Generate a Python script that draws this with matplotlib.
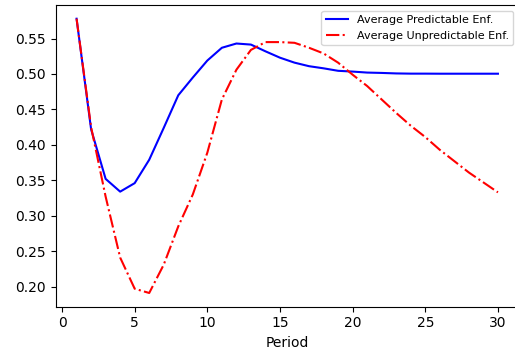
import matplotlib
matplotlib.use("Agg")
import matplotlib.pyplot as plt

# periods and average enforcement values
period = list(range(1, 31))
pred_enf = [0.578, 0.422, 0.352, 0.334, 0.346, 0.379, 0.424, 0.470, 0.495, 0.519,
            0.537, 0.543, 0.5415, 0.532, 0.523, 0.516, 0.511, 0.508, 0.5045, 0.5034,
            0.502, 0.5015, 0.5008, 0.5005, 0.5005, 0.5004, 0.5004, 0.5004, 0.5004, 0.5004]
unpred_enf = [0.578, 0.425, 0.327, 0.241, 0.197, 0.191, 0.231, 0.285, 0.330, 0.389,
              0.464, 0.506, 0.534, 0.545, 0.545, 0.544, 0.537, 0.529, 0.516, 0.499,
              0.483, 0.464, 0.445, 0.427, 0.411, 0.393, 0.377, 0.361, 0.347, 0.333]

fig = plt.figure(figsize=(5.15, 3.53), dpi=100)
# axes run slightly past the right edge, like the cropped original
ax = fig.add_axes([55.5 / 515, 46.3 / 353, 463.5 / 515, 301.7 / 353])

ax.plot(period, pred_enf, color="blue", linestyle="-", linewidth=1.5,
        label="Average Predictable Enf.")
ax.plot(period, unpred_enf, color="red", linestyle="-.", linewidth=1.5,
        label="Average Unpredictable Enf.")

ax.set_xlabel("Period")
ax.set_xticks([0, 5, 10, 15, 20, 25, 30])
ax.set_yticks([0.20, 0.25, 0.30, 0.35, 0.40, 0.45, 0.50, 0.55])
ax.spines["right"].set_visible(False)  # cut off in the original
ax.legend(loc="upper right", fontsize=8)

fig.savefig("out.png", dpi=100)
